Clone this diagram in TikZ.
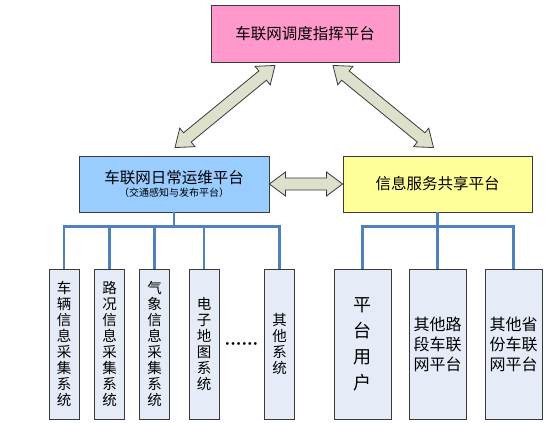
\documentclass[tikz,border=0pt]{standalone}
\usepackage{fontspec}
\setmainfont{Noto Sans CJK SC}
\newfontfamily\dotfont{DejaVu Sans}
\usetikzlibrary{positioning}
\usetikzlibrary{calc}
\definecolor{pinkbox}{HTML}{FF99CC}
\definecolor{bluebox}{HTML}{99CCFF}
\definecolor{yellowbox}{HTML}{FFFF99}
\definecolor{sysbox}{HTML}{E6ECF7}
\definecolor{busline}{HTML}{4F81BD}
\definecolor{arrowfill}{HTML}{DDE0CB}
\definecolor{boxline}{HTML}{3A3A3A}
\tikzset{%
  box/.style = {rectangle,draw=boxline,line width=0.9pt,align=center,
        inner sep=0pt},
  head/.style = {box,fill=pinkbox,minimum width=188pt,minimum height=57pt,
        font=\fontsize{15.5}{18}\selectfont},
  plat/.style = {box,minimum width=190pt,minimum height=56pt},
  sys/.style = {box,fill=sysbox,minimum width=30pt,minimum height=150pt,
        font=\fontsize{14.5}{16}\selectfont},
  user/.style = {box,fill=sysbox,minimum width=57pt,minimum height=150pt},
  bus/.style = {draw=busline,line width=2.6pt},
  fat/.style = {fill=arrowfill,draw=boxline,line width=0.8pt,line join=miter}
}
% broad arrow with a head at both ends
\newcommand{\dblarrow}[2]{%
  \path[fat] (#1)
    -- ($(#1)!16pt!(#2)!12pt!90:(#2)$)
    -- ($(#1)!16pt!(#2)!6pt!90:(#2)$)
    -- ($(#2)!16pt!(#1)!6pt!-90:(#1)$)
    -- ($(#2)!16pt!(#1)!12pt!-90:(#1)$)
    -- (#2)
    -- ($(#2)!16pt!(#1)!12pt!90:(#1)$)
    -- ($(#2)!16pt!(#1)!6pt!90:(#1)$)
    -- ($(#1)!16pt!(#2)!6pt!-90:(#2)$)
    -- ($(#1)!16pt!(#2)!12pt!-90:(#2)$)
    -- cycle;}

\begin{document}
\begin{tikzpicture}[x=1pt,y=-1pt]
    \useasboundingbox (0,0) rectangle (549,423);
    % platforms
    \node[head] (disp) at (305,33.5) {车联网调度指挥平台};
    \node[plat,fill=bluebox] (ops) at (174,184)
        {{\fontsize{15.5}{18}\selectfont 车联网日常运维平台}\\[1pt]
         {\fontsize{10}{12}\selectfont （交通感知与发布平台）}};
    \node[plat,fill=yellowbox,minimum width=189pt,
        font=\fontsize{15.5}{18}\selectfont] (svc) at (437.5,184)
        {信息服务共享平台};
    % subsystems
    \node[sys] (s1) at (64,344) {车\\辆\\信\\息\\采\\集\\系\\统};
    \node[sys] (s2) at (109.5,344) {路\\况\\信\\息\\采\\集\\系\\统};
    \node[sys] (s3) at (154.5,344) {气\\象\\信\\息\\采\\集\\系\\统};
    \node[sys] (s4) at (204,344) {电\\子\\地\\图\\系\\统};
    \node[sys] (s5) at (279.5,344) {其\\他\\系\\统};
    \node[font=\dotfont\fontsize{9.5}{12}\selectfont,inner sep=0pt] (more)
        at (241.5,345) {••••••};
    % users
    \node[user,font=\fontsize{18}{26}\selectfont] (u1) at (362.5,344)
        {平\\台\\用\\户};
    \node[user,font=\fontsize{16}{20}\selectfont] (u2) at (437.5,344)
        {其他路\\段车联\\网平台};
    \node[user,font=\fontsize{16}{20}\selectfont] (u3) at (513.5,344)
        {其他省\\份车联\\网平台};
    % trees
    \foreach \n in {s1,s2,s3,s4,s5}
        \draw[bus] (ops.south) -- ++(0,14) -| (\n.north);
    \foreach \n in {u1,u2,u3}
        \draw[bus] (svc.south) -- ++(0,14) -| (\n.north);
    % arrows between platforms
    \coordinate (dispL) at ([xshift=-30pt,yshift=-3pt]disp.south);
    \coordinate (dispR) at ([xshift=28pt,yshift=-3pt]disp.south);
    \coordinate (opsT) at ([xshift=1pt,yshift=8pt]ops.north);
    \coordinate (svcT) at ([xshift=-4pt,yshift=8pt]svc.north);
    \dblarrow{opsT}{dispL}
    \dblarrow{svcT}{dispR}
    \dblarrow{ops.east}{svc.west}
\end{tikzpicture}
\end{document}
